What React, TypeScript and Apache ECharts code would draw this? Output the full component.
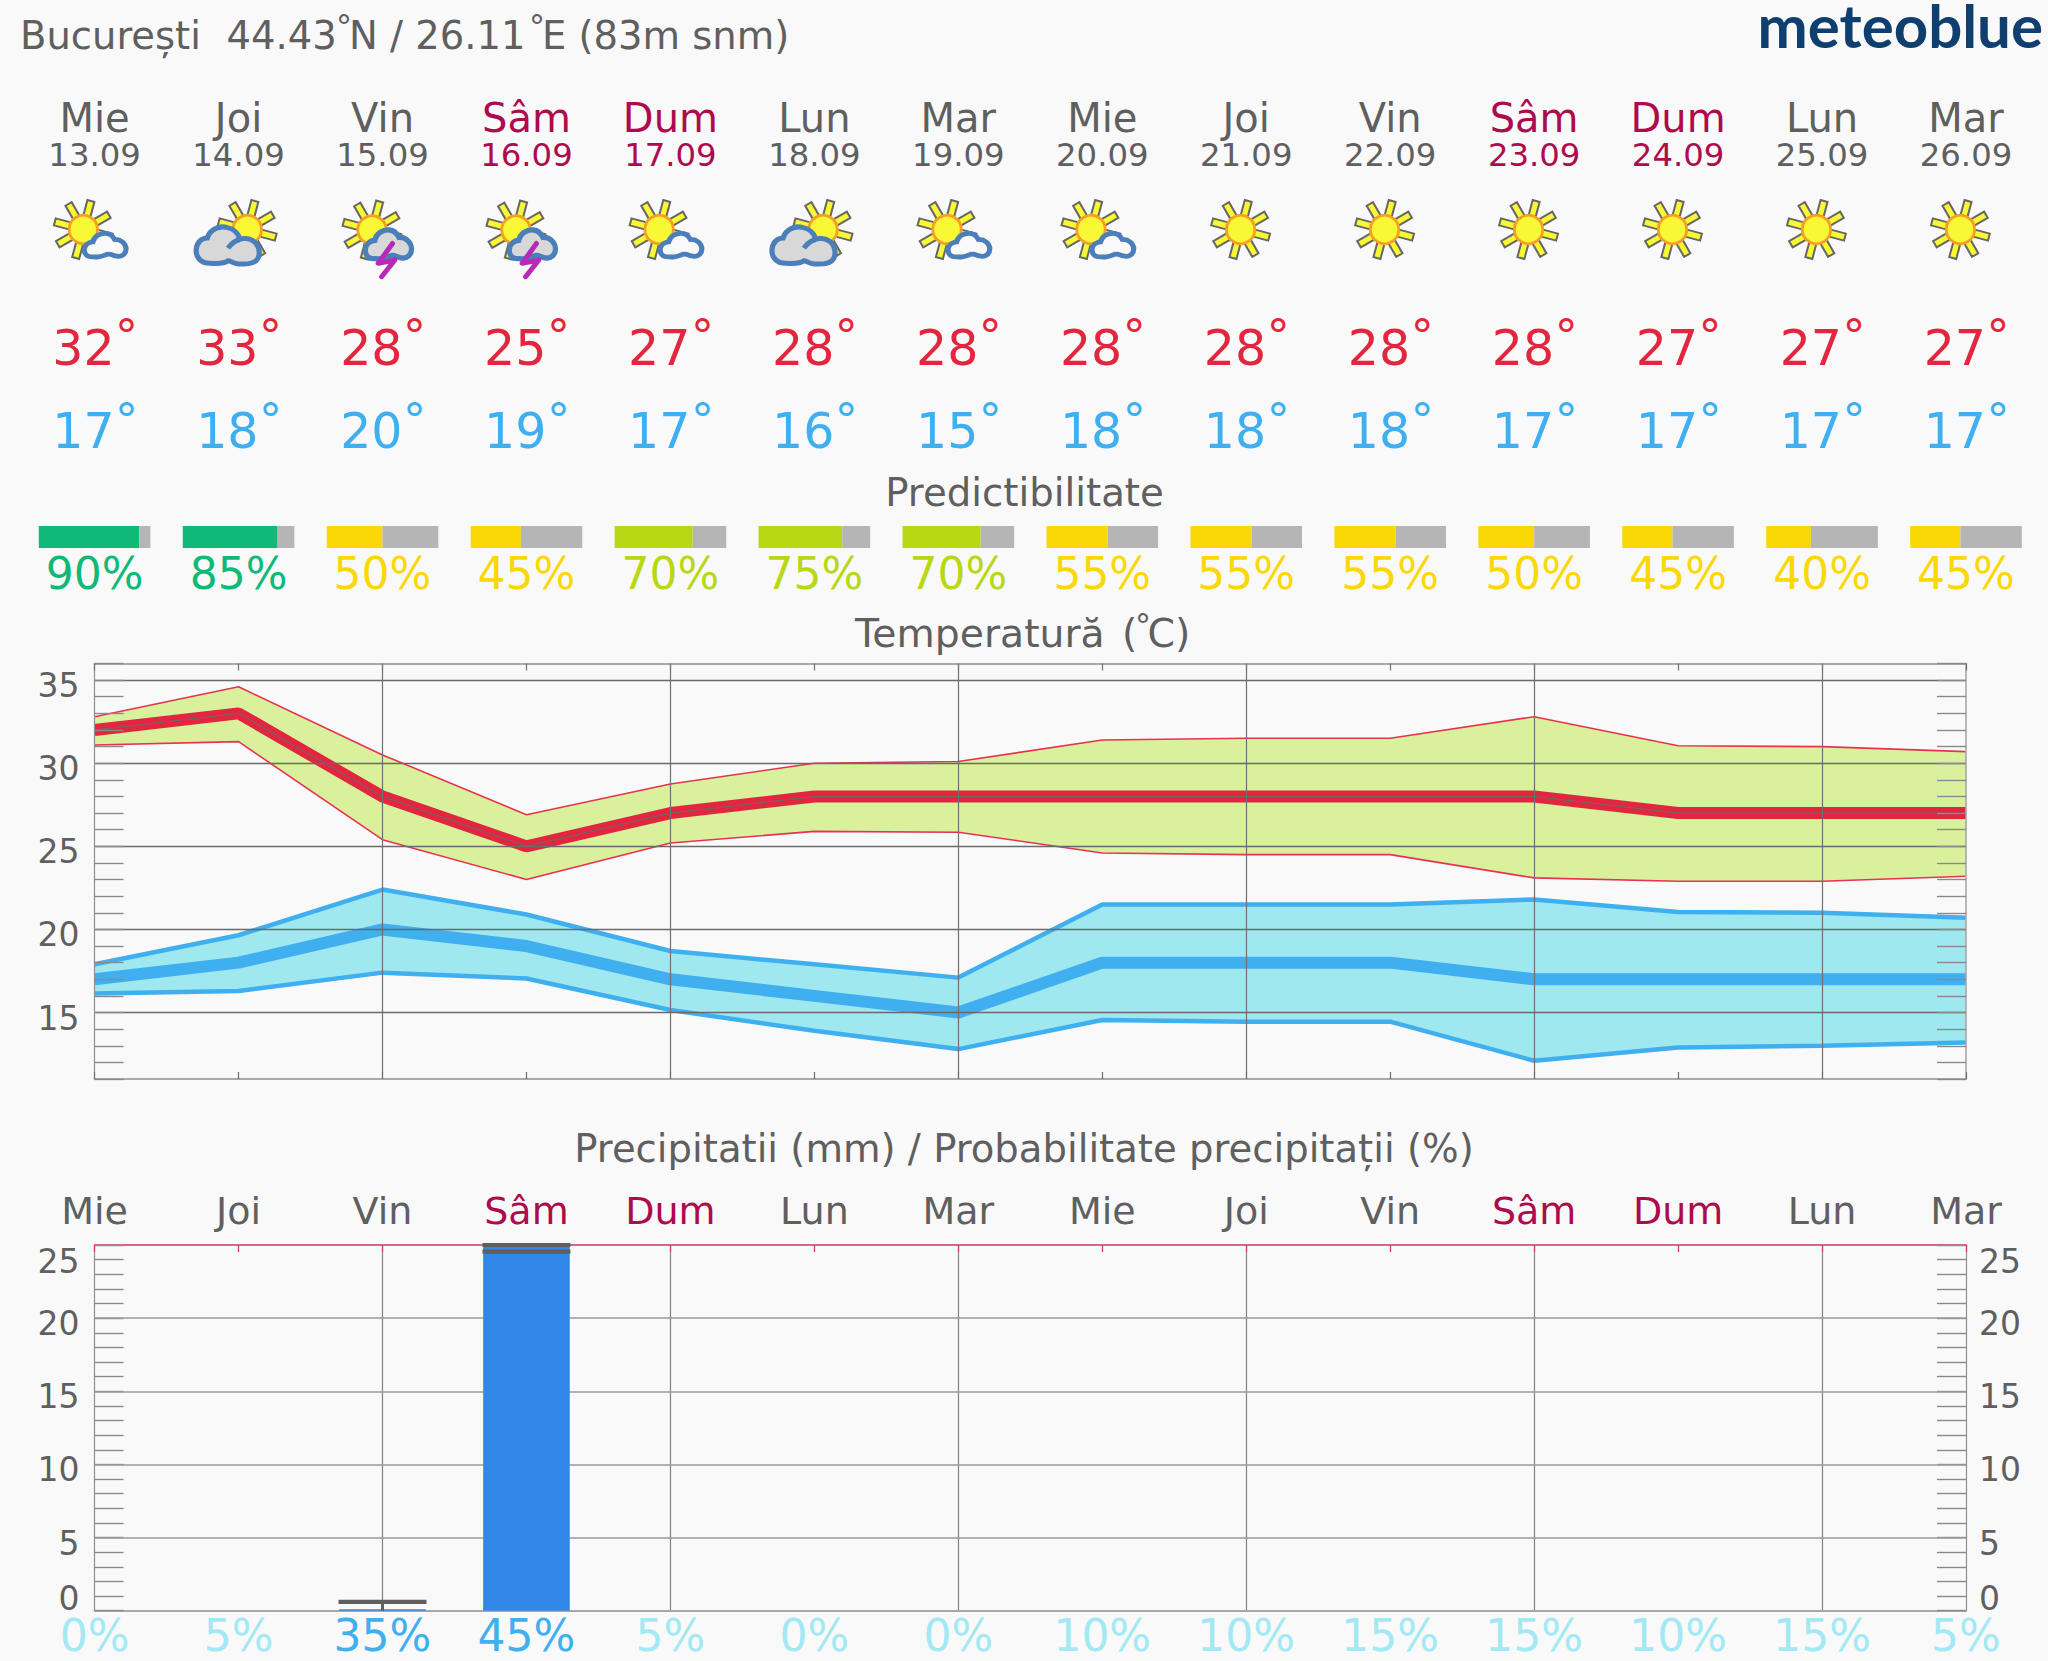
import React, { useEffect, useRef } from "react";
import * as echarts from "echarts";

const dayNames = ["Mie", "Joi", "Vin", "Sâm", "Dum", "Lun", "Mar", "Mie", "Joi", "Vin", "Sâm", "Dum", "Lun", "Mar"];
const dates = ["13.09", "14.09", "15.09", "16.09", "17.09", "18.09", "19.09", "20.09", "21.09", "22.09", "23.09", "24.09", "25.09", "26.09"];
const weekend = [false, false, false, true, true, false, false, false, false, false, true, true, false, false];
const weatherIcons = ["sunCloud", "cloudSun", "storm", "storm", "sunCloud", "cloudSun", "sunCloud", "sunCloud", "sun", "sun", "sun", "sun", "sun", "sun"];
const tempMax = [32, 33, 28, 25, 27, 28, 28, 28, 28, 28, 28, 27, 27, 27];
const tempMin = [17, 18, 20, 19, 17, 16, 15, 18, 18, 18, 17, 17, 17, 17];
const predictability = [90, 85, 50, 45, 70, 75, 70, 55, 55, 55, 50, 45, 40, 45];
const maxUpper = [32.8, 34.6, 30.5, 26.9, 28.75, 30.0, 30.1, 31.4, 31.5, 31.5, 32.8, 31.05, 31.0, 30.7];
const maxLower = [31.1, 31.3, 25.4, 23.0, 25.2, 25.9, 25.85, 24.6, 24.5, 24.5, 23.1, 22.9, 22.9, 23.2];
const minUpper = [17.9, 19.65, 22.4, 20.9, 18.7, 17.9, 17.1, 21.5, 21.5, 21.5, 21.8, 21.05, 21.0, 20.7];
const minLower = [16.15, 16.3, 17.4, 17.05, 15.15, 13.9, 12.8, 14.55, 14.45, 14.45, 12.1, 12.9, 13.0, 13.2];
const tempMajor = [15, 20, 25, 30, 35];
const precipValues = [0, 0, 0.1, 25.6, 0, 0, 0, 0, 0, 0, 0, 0, 0, 0];
const precipCaps = [[2, 0.6], [3, 24.55], [3, 25]];
const precipStems = [[2, 0, 0.6]];
const precipMajor = [5, 10, 15, 20];
const precipProb = [0, 5, 35, 45, 5, 0, 0, 10, 10, 15, 15, 10, 15, 5];

const FONT = "DejaVu Sans";
const GREY = "#5f5f5f";
const CRIMSON = "#ae0a4e";
const RED = "#e2263f";
const BLUE = "#3fafef";
const LEFT = 94.6;
const RIGHT = 1966;
const STEP = (RIGHT - LEFT) / 13;
const dayX = (i: number) => LEFT + i * STEP;

const predColor = (v: number) => (v >= 80 ? "#10b977" : v >= 60 ? "#b8d816" : "#f9d806");

const CLOUD_SMALL = "M14 61C4 60 0 50 1 42C2 32 10 25 21 24C24 10 38 2 52 3C62 4 68 10 72 18C86 17 99 28 99 42C99 55 88 62 78 60C70 59 66 55 58 55C50 55 44 62 32 62C24 62 20 61 14 61Z";
const CLOUD_BIG = "M22 60C8 60 0 50 1 38C2 26 10 20 18 20C22 6 36 0 48 3C58 5 66 12 68 22C72 20 82 20 88 24C98 30 100 44 96 52C92 60 80 62 66 61C58 60 54 56 50 56C42 62 32 60 22 60Z";
const CLOUD_CURL = "M68 22C62 24 54 30 50 36";
echarts.graphic.registerShape("cloudSmall", echarts.graphic.extendPath(CLOUD_SMALL, {}));
echarts.graphic.registerShape("cloudBig", echarts.graphic.extendPath(CLOUD_BIG, {}));
echarts.graphic.registerShape("cloudCurl", echarts.graphic.extendPath(CLOUD_CURL, {}));

function txt(x: number, baseline: number, text: string, size: number, fill: string, align = "center", family = FONT, weight: any = "normal", central = 0.346) {
  return {
    type: "text",
    x,
    y: baseline - central * size,
    silent: true,
    style: { text, fontSize: size, fontFamily: family, fontWeight: weight, fill, align, verticalAlign: "middle" },
  };
}

function sun(cx: number, cy: number) {
  const out: any[] = [];
  for (let k = 0; k < 8; k++) {
    const t = ((-75 + 45 * k) * Math.PI) / 180;
    const c = Math.cos(t), s = Math.sin(t), w = 3.6;
    const r0 = 13, r1 = 29.5;
    out.push({
      type: "polygon", silent: true,
      shape: { points: [
        [cx + r0 * c - w * s, cy + r0 * s + w * c],
        [cx + r1 * c - w * s, cy + r1 * s + w * c],
        [cx + r1 * c + w * s, cy + r1 * s - w * c],
        [cx + r0 * c + w * s, cy + r0 * s - w * c],
      ] },
      style: { fill: "#f9f835", stroke: "#666666", lineWidth: 2 },
    });
  }
  out.push({ type: "circle", silent: true, shape: { cx, cy, r: 14.2 }, style: { fill: "#f9f835", stroke: "#f5a024", lineWidth: 2.8 } });
  return out;
}

function icon(kind: string, x: number) {
  const y = 229.5;
  if (kind === "sun") return sun(x - 5.6, y);
  if (kind === "sunCloud") {
    return [...sun(x - 11.3, y), { type: "cloudSmall", silent: true, x: x - 10.6, y: 232.2, scaleX: 0.425, scaleY: 0.4, style: { fill: "#f9f9f9", stroke: "#4a7fbb", lineWidth: 12 } }];
  }
  if (kind === "cloudSun") {
    return [
      ...sun(x + 8.7, y),
      { type: "cloudBig", silent: true, x: x - 43, y: 225.5, scaleX: 0.65, scaleY: 0.63, style: { fill: "#d8d8d8", stroke: "#4a7fbb", lineWidth: 8 } },
      { type: "cloudCurl", silent: true, x: x - 43, y: 225.5, scaleX: 0.65, scaleY: 0.63, style: { fill: "none", stroke: "#4a7fbb", lineWidth: 8 } },
    ];
  }
  return [
    ...sun(x - 10.5, y + 0.5),
    { type: "cloudSmall", silent: true, x: x - 17.5, y: 228.5, scaleX: 0.47, scaleY: 0.49, style: { fill: "#d8d8d8", stroke: "#4a7fbb", lineWidth: 11 } },
    { type: "polyline", silent: true, shape: { points: [[x + 10, 243.5], [x - 4.3, 263.3], [x + 12.4, 260], [x - 0.9, 276.7]] }, style: { fill: "none", stroke: "#b52bb8", lineWidth: 5, lineCap: "round", lineJoin: "round" } },
  ];
}

function tempPair(x: number, baseline: number, ringTop: number, text: string, fill: string) {
  const dSize = 46;
  return [
    txt(x + 20, baseline, text, 49, fill, "right"),
    txt(x + 20.5, ringTop + 0.742 * dSize, "°", dSize, fill, "left"),
  ];
}

function headerGraphics() {
  const els: any[] = [];
  const ringSize = 32;
  const ringBase = 14 + 0.742 * ringSize;
  const H = 38.5;
  els.push(
    txt(20, 49.3, "București", H, GREY, "left"),
    txt(226.5, 49.3, "44.43", H, GREY, "left"),
    txt(336, ringBase, "°", ringSize, GREY, "left"),
    txt(349, 49.3, "N / 26.11", H, GREY, "left"),
    txt(529, ringBase, "°", ringSize, GREY, "left"),
    txt(542, 49.3, "E (83m snm)", H, GREY, "left"),
    txt(2043, 48, "meteoblue", 60, "#0f3f6e", "right", "Lato", "bold", 0.387),
    txt(1024.5, 506, "Predictibilitate", 38.7, GREY),
    txt(855, 647, "Temperatură", 39.3, GREY, "left"),
    txt(1122, 647, "(", 39.3, GREY, "left"),
    txt(1135, 613 + 0.742 * 32, "°", 32, GREY, "left"),
    txt(1147.5, 647, "C)", 39.3, GREY, "left"),
    txt(1024, 1161.7, "Precipitatii (mm) / Probabilitate precipitații (%)", 38.6, GREY)
  );
  dayNames.forEach((d, i) => {
    const x = dayX(i);
    const c = weekend[i] ? CRIMSON : GREY;
    els.push(txt(x, 131.7, d, 40, c), txt(x, 165.7, dates[i], 32.3, c));
    els.push(...icon(weatherIcons[i], x));
    els.push(...tempPair(x, 365.7, 318, String(tempMax[i]), RED));
    els.push(...tempPair(x, 448.3, 401.7, String(tempMin[i]), BLUE));
  });
  return els;
}

function majorLines(values: number[], color: string, width: number, z: number) {
  return {
    silent: true, symbol: "none", z, animation: false,
    label: { show: false },
    lineStyle: { color, width, type: "solid" },
    data: values.map((v) => ({ yAxis: v })),
  };
}

function band(name: string, lower: number[], upper: number[], fill: string, edge: string, edgeW: number, xAxisIndex: number, yAxisIndex: number, marks?: any) {
  const common = { type: "line", xAxisIndex, yAxisIndex, symbol: "none", z: 1, silent: true };
  return [
    { ...common, name: name + "-base", stack: name, data: lower, lineStyle: { width: 0 } },
    { ...common, name: name + "-fill", stack: name, data: upper.map((u, i) => +(u - lower[i]).toFixed(2)), lineStyle: { width: 0 }, areaStyle: { color: fill, opacity: 1 } },
    { ...common, name: name + "-up", data: upper, z: 2, lineStyle: { color: edge, width: edgeW }, markLine: marks },
    { ...common, name: name + "-low", data: lower, z: 2, lineStyle: { color: edge, width: edgeW } },
  ];
}

function buildOption() {
  const tickGrey = "#8a8a8a";
  const frame = { show: true, onZero: false, lineStyle: { color: "#a8a8a8", width: 2 } };
  const catBase = { type: "category", boundaryGap: false, data: dayNames, axisLabel: { show: false } };
  const evenSplit = { show: true, interval: (i: number) => i % 2 === 0 && i > 0, lineStyle: { color: "#707070", width: 1.2 } };
  const labelFont = { fontFamily: FONT, fontSize: 33, color: GREY };
  const richLabels = {
    mid: { ...labelFont, padding: [11, 0, 0, 0] },
    top: { ...labelFont, padding: [32, 0, 0, 0] },
    bot: { ...labelFont, padding: [0, 0, 25, 0] },
  };
  const axisLabelY = { show: true, ...labelFont, margin: 15, showMinLabel: true, showMaxLabel: true, hideOverlap: false, rich: richLabels };
  const tempLabel = (v: number) => (v % 5 === 0 ? `{mid|${v}}` : "");
  const precipLabel = (v: number) => (v === 25 ? "{top|25}" : v === 0 ? "{bot|0}" : v % 5 === 0 ? `{mid|${v}}` : "");
  const yTick = { show: true, inside: true, length: 29, lineStyle: { color: tickGrey, width: 1.4 } };

  return {
    animation: false,
    backgroundColor: "#f9f9f9",
    graphic: { elements: headerGraphics() },
    grid: [
      { left: LEFT - STEP / 2, right: 2048 - RIGHT - STEP / 2, top: 526, height: 22 },
      { left: LEFT, right: 2048 - RIGHT, top: 663.5, height: 415.5 },
      { left: LEFT, right: 2048 - RIGHT, top: 1245, height: 365.7 },
    ],
    xAxis: [
      {
        gridIndex: 0, type: "category", data: predictability.map((p) => p + "%"), axisLine: { show: false }, axisTick: { show: false },
        axisLabel: { interval: 0, fontFamily: FONT, fontSize: 44, margin: 3.8, color: (_: any, i: number) => predColor(predictability[i]) },
      },
      { ...catBase, gridIndex: 1, z: 5, position: "bottom", axisLine: frame, splitLine: evenSplit, axisTick: { show: true, inside: true, length: 7, interval: 0, lineStyle: { color: "#707070", width: 1.2 } } },
      { ...catBase, gridIndex: 1, z: 5, position: "top", axisLine: frame, splitLine: { show: false }, axisTick: { show: true, inside: true, length: 7, interval: 0, lineStyle: { color: "#707070", width: 1.2 } } },
      {
        gridIndex: 2, type: "category", boundaryGap: false, position: "bottom", data: precipProb.map((p) => p + "%"),
        axisLine: frame, axisTick: { show: false },
        splitLine: { show: true, interval: (i: number) => i % 2 === 0 && i > 0, lineStyle: { color: "#808080", width: 1.2 } },
        axisLabel: { interval: 0, fontFamily: FONT, fontSize: 44, margin: 2.5, color: (_: any, i: number) => (precipProb[i] >= 30 ? BLUE : "#a3e9f3") },
      },
      {
        gridIndex: 2, type: "category", boundaryGap: false, position: "top", data: dayNames,
        axisLine: { show: true, onZero: false, lineStyle: { color: "#c9366f", width: 1.6 } },
        axisTick: { show: true, inside: true, length: 7, interval: 0, lineStyle: { color: "#c9366f", width: 1.2 } },
        axisLabel: { interval: 0, fontFamily: FONT, fontSize: 38, margin: 15, color: (_: any, i: number) => (weekend[i] ? CRIMSON : GREY) },
        splitLine: { show: false },
      },
    ],
    yAxis: [
      { gridIndex: 0, type: "value", min: 0, max: 100, show: false },
      { gridIndex: 1, type: "value", z: 5, min: 11, max: 36, interval: 1, position: "left", axisLine: { show: true, onZero: false, lineStyle: { color: "#909090", width: 1.2 } }, axisTick: yTick, splitLine: { show: false }, axisLabel: { ...axisLabelY, formatter: tempLabel } },
      { gridIndex: 1, type: "value", z: 5, min: 11, max: 36, interval: 1, position: "right", axisLine: { show: true, onZero: false, lineStyle: { color: "#a8a8a8", width: 1.6 } }, axisTick: yTick, splitLine: { show: false }, axisLabel: { show: false } },
      { gridIndex: 2, type: "value", min: 0, max: 25, interval: 1, position: "left", axisLine: { show: true, onZero: false, lineStyle: { color: "#909090", width: 1.2 } }, axisTick: yTick, splitLine: { show: false }, axisLabel: { ...axisLabelY, formatter: precipLabel } },
      { gridIndex: 2, type: "value", min: 0, max: 25, interval: 1, position: "right", axisLine: { show: true, onZero: false, lineStyle: { color: "#909090", width: 1.2 } }, axisTick: yTick, splitLine: { show: false }, axisLabel: { ...axisLabelY, margin: 13, formatter: precipLabel } },
    ],
    series: [
      {
        type: "custom", xAxisIndex: 0, yAxisIndex: 0, silent: true, clip: false, data: predictability.map((v, i) => [i, v]),
        renderItem: (_: any, api: any) => {
          const v = api.value(1);
          const low = api.coord([api.value(0), 0]);
          const high = api.coord([api.value(0), 100]);
          const W = 111.6;
          const x0 = low[0] - W / 2;
          const split = (W * v) / 100;
          const h = low[1] - high[1];
          return {
            type: "group",
            children: [
              { type: "rect", shape: { x: x0, y: high[1], width: split, height: h }, style: { fill: predColor(v) } },
              { type: "rect", shape: { x: x0 + split, y: high[1], width: W - split, height: h }, style: { fill: "#b5b5b5" } },
            ],
          };
        },
      },

      ...band("max", maxLower, maxUpper, "#d9f09d", "#e8324f", 1.6, 1, 1, majorLines(tempMajor, "#6a6a6a", 1.3, 5)),
      ...band("min", minLower, minUpper, "#9fe8f0", BLUE, 4.5, 1, 1),
      { type: "line", xAxisIndex: 1, yAxisIndex: 1, symbol: "none", z: 3, silent: true, data: tempMax, lineStyle: { color: RED, width: 12, join: "bevel" } },
      { type: "line", xAxisIndex: 1, yAxisIndex: 1, symbol: "none", z: 4, silent: true, data: tempMax, lineStyle: { color: "#6a6a6a", width: 1 } },
      { type: "line", xAxisIndex: 1, yAxisIndex: 1, symbol: "none", z: 3, silent: true, data: tempMin, lineStyle: { color: BLUE, width: 12, join: "bevel" } },

      { type: "bar", xAxisIndex: 3, yAxisIndex: 3, barWidth: 86.6, z: 3, silent: true, itemStyle: { color: "#3187e8" }, data: precipValues, markLine: majorLines(precipMajor, "#9a9a9a", 1.6, 1) },
      {
        type: "custom", xAxisIndex: 3, yAxisIndex: 3, z: 4, silent: true, clip: false, data: precipCaps,
        renderItem: (_: any, api: any) => {
          const p = api.coord([api.value(0), api.value(1)]);
          return { type: "rect", shape: { x: p[0] - 44, y: p[1] - 2.1, width: 88, height: 4.2 }, style: { fill: "#5f5f5f" } };
        },
      },
      {
        type: "custom", xAxisIndex: 3, yAxisIndex: 3, z: 4, silent: true, clip: false, data: precipStems,
        renderItem: (_: any, api: any) => {
          const a = api.coord([api.value(0), api.value(1)]);
          const b = api.coord([api.value(0), api.value(2)]);
          return { type: "rect", shape: { x: a[0] - 1.5, y: b[1], width: 3, height: a[1] - b[1] }, style: { fill: "#5f5f5f" } };
        },
      },
    ],
  };
}

export default function App() {
  const ref = useRef<HTMLDivElement>(null);
  useEffect(() => {
    const chart = echarts.init(ref.current!, undefined, { renderer: "svg" });
    chart.setOption(buildOption() as any);
    return () => chart.dispose();
  }, []);
  return <div ref={ref} style={{ position: "absolute", left: 0, top: 0, width: 2048, height: 1661 }} />;
}
